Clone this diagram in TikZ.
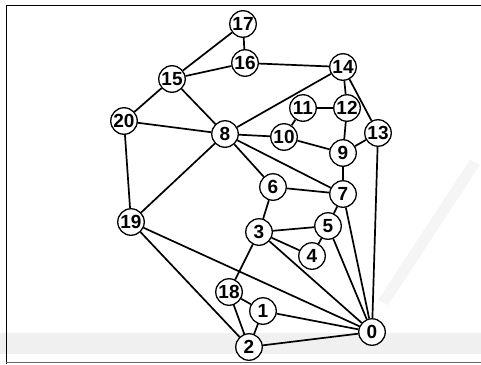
\documentclass[tikz,border=0pt]{standalone}
\usepackage{fontspec}
\setmainfont{Liberation Sans}[BoldFont={Liberation Sans Bold}]
\begin{document}
\begin{tikzpicture}[x=1pt,y=-1pt,
  vtx/.style={circle,draw=black,line width=1.3pt,fill=white,minimum size=26.5pt,inner sep=0pt,font=\bfseries\fontsize{19}{19}\selectfont},
  edge/.style={line width=1.7pt,black},
  wm/.style={fill=black!6,draw=none}]
\useasboundingbox (0,0) rectangle (481,364);
% faint watermark
\fill[wm] (0,333) rectangle (481,354);
\fill[black!4] (378,300) -- (470,160) -- (480,165) -- (388,305) -- cycle;
% frame
\draw[line width=1.2pt] (6.3,364) -- (6.3,5.3) -- (481,5.3);
\draw[line width=1pt,black!60] (6.3,362) -- (481,362);
% nodes
\node[vtx] (n17) at (243,24) {17};
\node[vtx] (n16) at (245,63) {16};
\node[vtx] (n14) at (343,67) {14};
\node[vtx] (n15) at (172,79) {15};
\node[vtx] (n11) at (303,108) {11};
\node[vtx] (n12) at (347,108) {12};
\node[vtx] (n20) at (124,121) {20};
\node[vtx] (n8) at (225,134) {8};
\node[vtx] (n10) at (284,137) {10};
\node[vtx] (n13) at (378,133) {13};
\node[vtx] (n9) at (343,153) {9};
\node[vtx] (n6) at (273,187) {6};
\node[vtx] (n7) at (343,194) {7};
\node[vtx] (n19) at (131,222) {19};
\node[vtx] (n5) at (328,226) {5};
\node[vtx] (n3) at (259,232) {3};
\node[vtx] (n4) at (312,256) {4};
\node[vtx] (n18) at (229,292) {18};
\node[vtx] (n1) at (263,311) {1};
\node[vtx] (n0) at (372,332) {0};
\node[vtx] (n2) at (249,347) {2};
% edges
\foreach \a/\b in {17/16,17/15,15/16,16/14,15/20,15/8,20/8,20/19,19/8,8/14,8/10,8/6,8/7,14/12,14/13,11/12,11/10,12/9,10/9,9/13,9/7,13/0,6/7,6/3,7/5,7/0,3/5,3/4,4/5,5/0,3/0,3/18,19/0,19/2,18/1,18/2,1/2,1/0,2/0}
  \draw[edge] (n\a) -- (n\b);
\end{tikzpicture}
\end{document}
